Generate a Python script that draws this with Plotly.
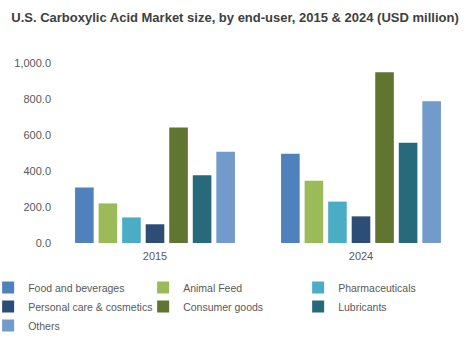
import plotly.graph_objects as go

years = ["2015", "2024"]
segments = ["Food and beverages", "Animal Feed", "Pharmaceuticals",
            "Personal care & cosmetics", "Consumer goods", "Lubricants", "Others"]
values_2015 = [309, 220, 142, 104, 642, 376, 507]
values_2024 = [496, 346, 230, 148, 948, 557, 787]
colors = ["#4f81bd", "#9bbb59", "#4bacc6", "#2c4d75", "#5f7530", "#276a7c", "#729aca"]
y_ticks = [0, 200, 400, 600, 800, 1000]
y_tick_labels = ["0.0", "200.0", "400.0", "600.0", "800.0", "1,000.0"]

fig = go.Figure()
for i, seg in enumerate(segments):
    fig.add_trace(go.Bar(
        name=seg, x=years, y=[values_2015[i], values_2024[i]],
        marker=dict(color=colors[i], line=dict(width=0)),
    ))

fig.update_layout(
    width=470, height=342,
    barmode="group", bargap=0.2, bargroupgap=0.21,
    paper_bgcolor="white", plot_bgcolor="white",
    margin=dict(l=52, r=6, t=63, b=99, autoexpand=False),
    font=dict(family="Liberation Sans, Arial, sans-serif", color="#595959", size=11),
    title=dict(text="<b>U.S. Carboxylic Acid Market size, by end-user, 2015 & 2024 (USD million)</b>",
               x=0.5, xanchor="center", y=1 - 17 / 342, yanchor="middle",
               font=dict(size=13, color="#404040")),
    xaxis=dict(showgrid=False, showline=False, ticks="", tickfont=dict(size=11),
               ticklabelstandoff=5),
    yaxis=dict(range=[0, 1000], tickvals=y_ticks, ticktext=y_tick_labels,
               showgrid=False, zeroline=False, showline=False, ticks="",
               tickfont=dict(size=11)),
    legend=dict(orientation="h", x=-0.155, xanchor="left", y=-0.1667, yanchor="top",
                entrywidth=110, itemwidth=30, font=dict(size=10.5, color="#595959"),
                tracegroupgap=0),
)

fig.write_html("out.html")
